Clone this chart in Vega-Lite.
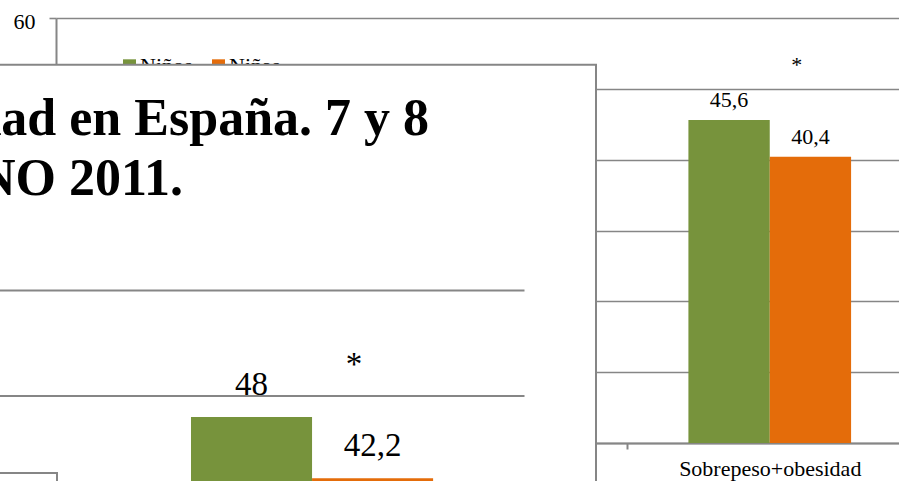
{
  "$schema": "https://vega.github.io/schema/vega-lite/v6.json",
  "width": 843,
  "height": 425,
  "padding": {"left": 56, "top": 18, "right": 0, "bottom": 38},
  "autosize": {"type": "none"},
  "background": "white",
  "config": {
    "view": {"stroke": null},
    "font": "Liberation Serif",
    "locale": {"number": {"decimal": ",", "thousands": ".", "grouping": [3], "currency": ["", " €"]}}
  },
  "datasets": {
    "fondo": [
      {"categoria": "Sobrepeso+obesidad", "sexo": "Niños", "valor": 45.6},
      {"categoria": "Sobrepeso+obesidad", "sexo": "Niñas", "valor": 40.4}
    ],
    "superpuesto": [
      {"categoria": "Sobrepeso+obesidad", "sexo": "Niños", "valor": 48},
      {"categoria": "Sobrepeso+obesidad", "sexo": "Niñas", "valor": 42.2}
    ],
    "notas": [{"categoria": "Sobrepeso+obesidad", "nota": "*"}],
    "leyenda": [{"sexo": "Niños"}, {"sexo": "Niñas"}],
    "rejilla": [{"valor": 50}, {"valor": 60}],
    "diapositiva": [{"elemento": "marco"}],
    "titulo": [
      {"linea": 1, "texto": "Prevalencia de sobrepeso y obesidad en España. 7 y 8"},
      {"linea": 2, "texto": "años. ALADINO 2011."}
    ]
  },
  "layer": [
    {
      "layer": [
        {
          "data": {"name": "fondo"},
          "mark": {"type": "bar"},
          "encoding": {
            "x": {
              "field": "categoria", "type": "nominal",
              "scale": {"domain": ["Sobrepeso", "Obesidad", "Sobrepeso+obesidad"], "range": [0, 856.5], "paddingInner": 0, "paddingOuter": 0},
              "axis": {
                "title": null, "labelAngle": 0, "labelFont": "Liberation Serif", "labelFontSize": 22, "labelColor": "black", "labelLimit": 0,
                "tickBand": "extent", "tickSize": 6, "tickColor": "#868686", "tickWidth": 2,
                "domainColor": "#868686", "domainWidth": 2, "labelPadding": 9, "grid": false
              }
            },
            "xOffset": {"field": "sexo", "type": "nominal", "scale": {"domain": ["Niños", "Niñas"], "paddingInner": 0, "paddingOuter": 0.755}},
            "y": {
              "field": "valor", "type": "quantitative",
              "scale": {"domain": [0, 60], "nice": false},
              "axis": {
                "title": null, "values": [0, 10, 20, 30, 40, 50, 60], "grid": true, "gridColor": "#868686", "gridWidth": 1.6,
                "domainColor": "#868686", "domainWidth": 2, "tickColor": "#868686", "tickWidth": 1.6, "tickSize": 7,
                "labelPadding": 14, "labelFont": "Liberation Serif", "labelFontSize": 22, "labelColor": "black", "labelOffset": 3
              }
            },
            "color": {"field": "sexo", "type": "nominal", "scale": {"domain": ["Niños", "Niñas"], "range": ["#77933C", "#E46C0A"]}, "legend": null}
          }
        },
        {
          "data": {"name": "fondo"},
          "mark": {"type": "text", "baseline": "alphabetic", "dy": -13, "fontSize": 22, "font": "Liberation Serif", "fill": "black"},
          "encoding": {
            "x": {"field": "categoria", "type": "nominal"},
            "xOffset": {"field": "sexo", "type": "nominal"},
            "y": {"field": "valor", "type": "quantitative"},
            "text": {"field": "valor", "type": "quantitative", "format": ".3~g"}
          }
        },
        {
          "data": {"name": "notas"},
          "mark": {"type": "text", "baseline": "alphabetic", "dx": 27, "fontSize": 22, "font": "Liberation Serif", "fill": "black"},
          "encoding": {
            "x": {"field": "categoria", "type": "nominal"},
            "y": {"datum": 52.4, "type": "quantitative"},
            "text": {"field": "nota"}
          }
        }
      ]
    },
    {
      "data": {"name": "leyenda"},
      "layer": [
        {
          "mark": {"type": "point", "shape": "square", "size": 169, "filled": true, "opacity": 1, "strokeWidth": 0},
          "encoding": {
            "x": {"field": "sexo", "type": "nominal", "scale": {"type": "point", "domain": ["Niños", "Niñas"], "range": [73.5, 162.5], "padding": 0}, "axis": null},
            "y": {"datum": 53.25, "type": "quantitative", "scale": {"domain": [0, 60], "nice": false}, "axis": null},
            "color": {"field": "sexo", "type": "nominal", "legend": null}
          }
        },
        {
          "mark": {"type": "text", "align": "left", "baseline": "middle", "dx": 10.5, "fontSize": 22, "font": "Liberation Serif", "fill": "black"},
          "encoding": {
            "x": {"field": "sexo", "type": "nominal"},
            "y": {"datum": 53.25, "type": "quantitative"},
            "text": {"field": "sexo"}
          }
        }
      ]
    },
    {
      "layer": [
        {
          "data": {"name": "diapositiva"},
          "mark": {"type": "rect", "fill": "white", "stroke": "#868686", "strokeWidth": 2, "x2Offset": 71.5},
          "encoding": {
            "x": {"datum": "Sobrepeso", "type": "nominal", "bandPosition": 0,
                  "scale": {"domain": ["Sobrepeso", "Obesidad", "Sobrepeso+obesidad"], "range": [-806.2, 468.5], "paddingInner": 0, "paddingOuter": 0}, "axis": null},
            "x2": {"datum": "Sobrepeso+obesidad", "bandPosition": 1},
            "y": {"datum": 81.4, "type": "quantitative", "scale": {"domain": [0, 60], "range": [905.5, 272.5], "nice": false}, "axis": null},
            "y2": {"datum": 0}
          }
        },
        {
          "data": {"name": "rejilla"},
          "mark": {"type": "rule", "stroke": "#868686", "strokeWidth": 2.2},
          "encoding": {
            "x": {"datum": "Sobrepeso", "type": "nominal", "bandPosition": 0},
            "x2": {"datum": "Sobrepeso+obesidad", "bandPosition": 1},
            "y": {"field": "valor", "type": "quantitative"}
          }
        },
        {
          "data": {"name": "diapositiva"},
          "mark": {"type": "rect", "fill": "white", "stroke": "#868686", "strokeWidth": 2, "x2Offset": -42.6},
          "encoding": {
            "x": {"datum": "Sobrepeso", "type": "nominal", "bandPosition": 0},
            "x2": {"datum": "Sobrepeso+obesidad", "bandPosition": 0},
            "y": {"datum": 42.7, "type": "quantitative"},
            "y2": {"datum": 0}
          }
        },
        {
          "data": {"name": "superpuesto"},
          "mark": {"type": "bar"},
          "encoding": {
            "x": {"field": "categoria", "type": "nominal"},
            "xOffset": {"field": "sexo", "type": "nominal", "scale": {"domain": ["Niños", "Niñas"], "paddingInner": 0, "paddingOuter": 0.755}},
            "y": {"field": "valor", "type": "quantitative"},
            "color": {"field": "sexo", "type": "nominal", "legend": null}
          }
        },
        {
          "data": {"name": "superpuesto"},
          "mark": {"type": "text", "baseline": "alphabetic", "dy": -22, "fontSize": 33, "font": "Liberation Serif", "fill": "black"},
          "encoding": {
            "x": {"field": "categoria", "type": "nominal"},
            "xOffset": {"field": "sexo", "type": "nominal"},
            "y": {"field": "valor", "type": "quantitative"},
            "text": {"field": "valor", "type": "quantitative", "format": ".3~g"}
          }
        },
        {
          "data": {"name": "notas"},
          "mark": {"type": "text", "baseline": "alphabetic", "dx": 42, "fontSize": 33, "font": "Liberation Serif", "fill": "black"},
          "encoding": {
            "x": {"field": "categoria", "type": "nominal"},
            "y": {"datum": 52, "type": "quantitative"},
            "text": {"field": "nota"}
          }
        },
        {
          "data": {"name": "titulo"},
          "transform": [{"filter": "datum.linea == 1"}],
          "mark": {"type": "text", "align": "right", "baseline": "alphabetic", "dx": 117, "dy": -156, "fontSize": 52, "fontWeight": "bold", "font": "Liberation Serif", "fill": "black"},
          "encoding": {
            "x": {"datum": "Sobrepeso+obesidad", "type": "nominal"},
            "y": {"datum": 60, "type": "quantitative"},
            "text": {"field": "texto"}
          }
        },
        {
          "data": {"name": "titulo"},
          "transform": [{"filter": "datum.linea == 2"}],
          "mark": {"type": "text", "align": "right", "baseline": "alphabetic", "dx": -129, "dy": -95.5, "fontSize": 52, "fontWeight": "bold", "font": "Liberation Serif", "fill": "black"},
          "encoding": {
            "x": {"datum": "Sobrepeso+obesidad", "type": "nominal"},
            "y": {"datum": 60, "type": "quantitative"},
            "text": {"field": "texto"}
          }
        }
      ]
    }
  ],
  "resolve": {
    "scale": {"x": "independent", "y": "independent", "xOffset": "independent"},
    "axis": {"x": "independent", "y": "independent"}
  }
}
